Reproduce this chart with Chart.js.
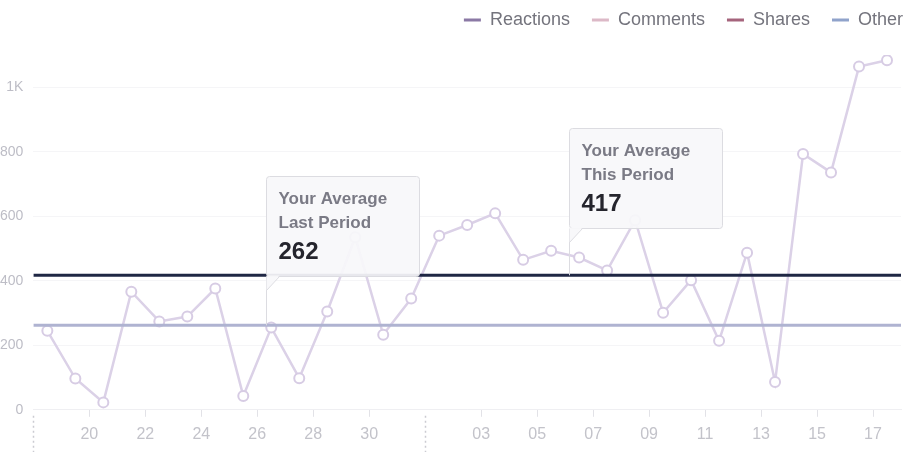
<!DOCTYPE html>
<html>
<head>
<meta charset="utf-8">
<script src="https://cdn.jsdelivr.net/npm/chart.js@4.4.1/dist/chart.umd.min.js"></script>
<style>
  html, body { margin: 0; padding: 0; background: #fff; }
  #wrap { width: 908px; height: 452px; }
</style>
</head>
<body>
<div id="wrap"><canvas id="chart"></canvas></div>
<script>
// one point per day: 18th..31st of last month, then 1st..17th
const days = ['18', '19', '20', '21', '22', '23', '24', '25', '26', '27', '28', '29', '30', '31',
  '01', '02', '03', '04', '05', '06', '07', '08', '09', '10', '11', '12', '13', '14', '15', '16', '17'];
const reactions = [245, 97, 23, 366, 274, 289, 376, 43, 255, 98, 305, 535, 233, 345,
  540, 573, 609, 465, 493, 472, 432, 588, 301, 402, 214, 487, 86, 793, 736, 1064, 1084];
const tickLabels = ['20', '22', '24', '26', '28', '30', '03', '05', '07', '09', '11', '13', '15', '17'];
const monthStarts = ['18', '01'];

const legendNames = ['Reactions', 'Comments', 'Shares', 'Other'];
const legendColors = ['#8b79a5', '#dcb9c7', '#a5647c', '#90a3cb'];

const averageValues = [262, 417];
const averageLabels = ['Last Period', 'This Period'];
const averageColors = ['#afb3d1', '#1f2744'];

// callout boxes: left edge in x units, gap above the average line in px
const calloutPos = [{ x: 7.8, rise: 49 }, { x: 18.65, rise: 47 }];
const BOX_W = 153;
const BOX_H = 100;

const FONT = "'Liberation Sans', Arial, sans-serif";
Chart.defaults.font.family = FONT;

// move legend up and to the right edge (chart.js pads it on both sides)
const legendShift = {
  id: 'legendShift',
  afterLayout(chart) {
    const lg = chart.legend;
    const dx = chart.width + 17 - lg.right;
    lg.left += dx;
    lg.right += dx;
    lg.top -= 16;
    lg.bottom -= 16;
  }
};

// speech-bubble boxes for the two averages
const callouts = {
  id: 'callouts',
  afterDatasetsDraw(chart) {
    const { ctx, scales: { x, y } } = chart;
    averageValues.forEach((v, i) => {
      const lineY = y.getPixelForValue(v);
      const left = Math.round(x.getPixelForValue(calloutPos[i].x)) + 0.5;
      const bottom = Math.round(lineY - calloutPos[i].rise) + 0.5;
      const top = bottom - BOX_H;
      ctx.save();
      ctx.lineWidth = 1;
      ctx.strokeStyle = '#dcdce1';
      ctx.beginPath();
      ctx.moveTo(left, bottom);
      ctx.lineTo(left, lineY);
      ctx.stroke();

      ctx.fillStyle = 'rgba(248,248,250,0.93)';
      ctx.beginPath();
      ctx.roundRect(left, top, BOX_W, BOX_H, 3);
      ctx.fill();
      ctx.stroke();

      // tail
      ctx.beginPath();
      ctx.moveTo(left, bottom - 1);
      ctx.lineTo(left, bottom + 14);
      ctx.lineTo(left + 13, bottom - 1);
      ctx.closePath();
      ctx.fill();
      ctx.beginPath();
      ctx.moveTo(left, bottom + 14);
      ctx.lineTo(left + 13, bottom);
      ctx.stroke();

      ctx.textBaseline = 'middle';
      ctx.textAlign = 'left';
      ctx.fillStyle = '#7a7a85';
      ctx.font = 'bold 17px ' + FONT;
      ctx.fillText('Your Average', left + 12, top + 23);
      ctx.fillText(averageLabels[i], left + 12, top + 47);
      ctx.fillStyle = '#25252d';
      ctx.font = 'bold 24px ' + FONT;
      ctx.fillText(String(v), left + 12, top + 76);
      ctx.restore();
    });
  }
};

// dotted month separators below the axis
const monthLines = {
  id: 'monthLines',
  afterDraw(chart) {
    const { ctx, chartArea, scales: { x } } = chart;
    ctx.save();
    ctx.strokeStyle = '#cbcbd1';
    ctx.lineWidth = 1.5;
    ctx.setLineDash([2, 3]);
    monthStarts.forEach((d) => {
      const px = Math.round(x.getPixelForValue(days.indexOf(d) - 0.5)) + 0.5;
      ctx.beginPath();
      ctx.moveTo(px, chartArea.bottom + 6);
      ctx.lineTo(px, chart.height);
      ctx.stroke();
    });
    ctx.restore();
  }
};

const datasets = [
  {
    label: legendNames[0],
    data: reactions.map((v, i) => ({ x: i, y: v })),
    borderColor: '#dbd1e7',
    borderWidth: 2.5,
    pointRadius: 5,
    pointBorderWidth: 2,
    pointBackgroundColor: '#ffffff',
    pointBorderColor: '#d7cce4',
    tension: 0,
    order: 2
  },
  { label: legendNames[1], data: [], borderColor: legendColors[1], order: 2 },
  { label: legendNames[2], data: [], borderColor: legendColors[2], order: 2 },
  { label: legendNames[3], data: [], borderColor: legendColors[3], order: 2 }
];
averageValues.forEach((v, i) => {
  datasets.push({
    label: averageLabels[i],
    data: [{ x: -0.5, y: v }, { x: days.length - 0.5, y: v }],
    borderColor: averageColors[i],
    borderWidth: 3,
    pointRadius: 0,
    order: 1
  });
});

new Chart(document.getElementById('chart'), {
  type: 'line',
  data: { datasets },
  options: {
    responsive: true,
    maintainAspectRatio: false,
    animation: false,
    events: [],
    layout: { padding: { top: 5, right: 5, left: -10, bottom: 0 } },
    plugins: {
      tooltip: { enabled: false },
      legend: {
        position: 'top',
        align: 'end',
        labels: {
          usePointStyle: true,
          pointStyleWidth: 17,
          padding: 22,
          color: '#74747d',
          font: { size: 18 },
          generateLabels: () => legendNames.map((name, i) => ({
            text: name,
            strokeStyle: legendColors[i],
            fillStyle: legendColors[i],
            lineWidth: 3,
            pointStyle: 'line',
            hidden: false,
            datasetIndex: i,
            fontColor: '#74747d'
          }))
        }
      }
    },
    scales: {
      x: {
        type: 'linear',
        min: -0.5,
        max: days.length - 0.5,
        afterBuildTicks: (scale) => {
          scale.ticks = tickLabels.map((l) => ({ value: days.indexOf(l) - 0.5 }));
        },
        ticks: {
          callback: (v) => days[Math.round(v + 0.5)],
          color: '#c3c3ca',
          font: { size: 16 },
          padding: 8,
          maxRotation: 0,
          autoSkip: false
        },
        grid: { drawOnChartArea: false, drawTicks: true, tickLength: 7, tickColor: '#e2e2e7' },
        border: { color: '#efeff2' }
      },
      y: {
        min: 0,
        max: 1100,
        ticks: {
          stepSize: 200,
          includeBounds: false,
          color: '#bdbdc6',
          font: { size: 14 },
          padding: 10,
          callback: (v) => (v >= 1000 ? v / 1000 + 'K' : v)
        },
        grid: { color: '#f5f5f7', drawTicks: false },
        border: { display: false }
      }
    }
  },
  plugins: [legendShift, callouts, monthLines]
});
</script>
</body>
</html>
